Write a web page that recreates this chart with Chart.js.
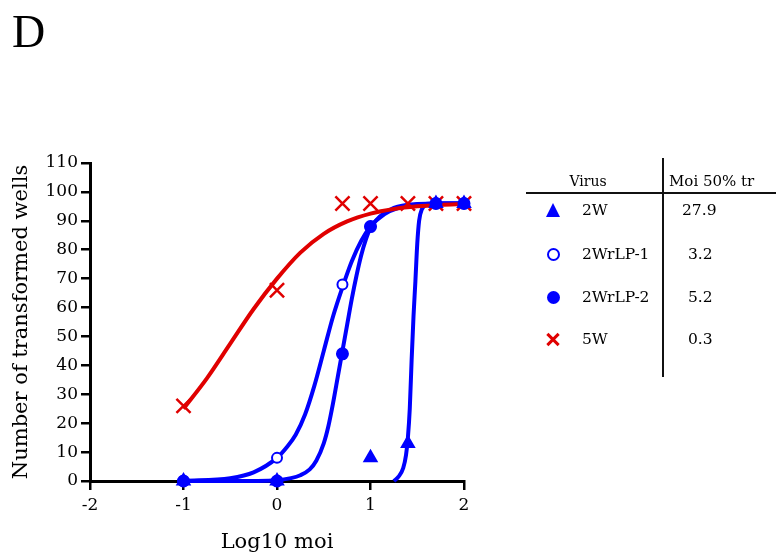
<!DOCTYPE html>
<html>
<head>
<meta charset="utf-8">
<script src="https://cdn.jsdelivr.net/npm/chart.js@4/dist/chart.umd.min.js"></script>
<style>
  html, body { margin: 0; padding: 0; background: #fff; }
  #wrap { position: relative; width: 776px; height: 557px; overflow: hidden; font-family: "DejaVu Serif", serif; color: #000; }
  #c { position: absolute; left: 0; top: 0; }
  .txt { position: absolute; height: 20px; line-height: 20px; white-space: nowrap; font-size: 15px; }
  .panel { position: absolute; left: 12px; top: 4px; font-family: "Liberation Serif", serif; font-size: 46px; line-height: 56px; }
  .vline { position: absolute; left: 662px; top: 158px; width: 1.5px; height: 219px; background: #111; }
  .hline { position: absolute; left: 526px; top: 192px; width: 250px; height: 1.5px; background: #111; }
  .tri { position: absolute; width: 0; height: 0; border-left: 7.5px solid transparent; border-right: 7.5px solid transparent; border-bottom: 14px solid #0000ff; }
  .dot { position: absolute; width: 13px; height: 13px; border-radius: 50%; box-sizing: border-box; }
  .cross { position: absolute; width: 14px; height: 14px; }
  .cross:before, .cross:after { content: ""; position: absolute; left: -1px; top: 5.5px; width: 16px; height: 3px; background: #e00000; }
  .cross:before { transform: rotate(45deg); }
  .cross:after { transform: rotate(-45deg); }
</style>
</head>
<body>
<div id="wrap">
  <canvas id="c" width="776" height="557"></canvas>
  <div class="panel">D</div>
  <div class="vline"></div>
  <div class="hline"></div>
  <div id="table"></div>
</div>
<script>
// measured points: log10 of moi on x, transformed wells (out of 96) on y
const logMoi = [-1, 0, 0.7, 1, 1.4, 1.7, 2];
const wells2W = [0, 0, null, 8, 13, 96, 96];
const wells2WrLP1 = [0, 8, 68, 88, null, 96, 96];
const wells2WrLP2 = [0, 0, 44, 88, null, 96, 96];
const wells5W = [26, 66, 96, 96, 96, 96, 96];

// fitted curves
const fit2WX = [1.25, 1.3, 1.35, 1.38, 1.4, 1.42, 1.44, 1.46, 1.48, 1.5, 1.52, 1.55, 1.6, 1.7, 2];
const fit2WY = [0, 1.5, 4.5, 9, 15, 25, 42, 57, 69, 82, 90, 94, 95.5, 96, 96];
const fitLP1X = [-1, -0.5, -0.25, 0, 0.1, 0.2, 0.3, 0.4, 0.5, 0.6, 0.7, 0.8, 0.9, 1, 1.15, 1.3, 1.5, 1.75, 2];
const fitLP1Y = [0.1, 1, 3, 8, 11.5, 16, 23, 33, 45, 57, 67, 76, 83, 88, 92.3, 94.5, 95.6, 96, 96];
const fitLP2X = [-1, -0.5, 0, 0.15, 0.25, 0.35, 0.42, 0.5, 0.55, 0.6, 0.65, 0.7, 0.75, 0.8, 0.85, 0.9, 0.95, 1, 1.1, 1.25, 1.5, 1.75, 2];
const fitLP2Y = [0, 0, 0.3, 1, 2, 4, 7, 13, 19, 27, 36, 45, 54, 63, 71, 78, 83.5, 87.5, 91.5, 94.5, 95.8, 96, 96];
const fit5WX = [-1, -0.75, -0.5, -0.25, 0, 0.25, 0.5, 0.75, 1, 1.25, 1.5, 1.75, 2];
const fit5WY = [25, 35.5, 47.5, 59.5, 70, 79, 85.5, 89.8, 92.5, 94.1, 95, 95.5, 95.8];

// right-hand table
const virusNames = ['2W', '2WrLP-1', '2WrLP-2', '5W'];
const moi50 = ['27.9', '3.2', '5.2', '0.3'];

const xTicks = [-2, -1, 0, 1, 2];
const yMax = 110;

const BLUE = '#0000ff';
const RED = '#e00000';
const SERIF = 'DejaVu Serif';

function pts(xs, ys) {
    const out = [];
    xs.forEach((x, i) => { if (ys[i] !== null) out.push({ x: x, y: ys[i] }); });
    return out;
}

function curve(xs, ys, color, order) {
    return {
        data: pts(xs, ys),
        showLine: true,
        borderColor: color,
        borderWidth: 4,
        pointRadius: 0,
        cubicInterpolationMode: 'monotone',
        order: order,
        clip: false
    };
}

function markers(ys, style, color, radius, fill, order) {
    return {
        data: pts(logMoi, ys),
        showLine: false,
        pointStyle: style,
        pointRadius: radius,
        pointBorderColor: color,
        pointBackgroundColor: fill,
        pointBorderWidth: style === 'crossRot' ? 2.5 : 2,
        order: order,
        clip: false
    };
}

const datasets = [
    markers(wells2W, 'triangle', BLUE, 7, BLUE, 1),
    markers(wells2WrLP1, 'circle', BLUE, 5, '#fff', 2),
    markers(wells2WrLP2, 'circle', BLUE, 5.5, BLUE, 1),
    markers(wells5W, 'crossRot', RED, 10, RED, 3),
    curve(fit5WX, fit5WY, RED, 5),
    curve(fit2WX, fit2WY, BLUE, 6),
    curve(fitLP1X, fitLP1Y, BLUE, 6),
    curve(fitLP2X, fitLP2Y, BLUE, 6)
];

new Chart(document.getElementById('c').getContext('2d'), {
    type: 'scatter',
    data: { datasets: datasets },
    options: {
        responsive: false,
        animation: false,
        layout: { padding: { left: 0, top: 163, right: 312, bottom: 0 } },
        plugins: { legend: { display: false }, tooltip: { enabled: false } },
        scales: {
            x: {
                type: 'linear',
                min: xTicks[0],
                max: xTicks[xTicks.length - 1],
                afterBuildTicks: (s) => { s.ticks = xTicks.map(v => ({ value: v })); },
                afterFit: (s) => { s.height = 76; },
                ticks: { color: '#000', padding: 5, font: { family: SERIF, size: 17 } },
                grid: { drawOnChartArea: false, color: '#000', lineWidth: 2.5, tickLength: 9 },
                border: { color: '#000', width: 3 },
                title: { display: true, text: 'Log10 moi', color: '#000', padding: { bottom: 2 }, font: { family: SERIF, size: 21 } }
            },
            y: {
                type: 'linear',
                min: 0,
                max: yMax,
                afterFit: (s) => { s.width = 90; },
                ticks: { stepSize: 10, color: '#000', padding: 3, font: { family: SERIF, size: 17 } },
                grid: { drawOnChartArea: false, color: '#000', lineWidth: 2.5, tickLength: 9 },
                border: { color: '#000', width: 3 },
                title: { display: true, text: 'Number of transformed wells', color: '#000', padding: { top: 9 }, font: { family: SERIF, size: 21 } }
            }
        }
    }
});

// table text and symbols
const table = document.getElementById('table');
function addText(str, left, cy, size, center) {
    const d = document.createElement('div');
    d.className = 'txt';
    d.textContent = str;
    d.style.top = (cy - 10) + 'px';
    d.style.fontSize = size + 'px';
    if (center) { d.style.left = (left - 100) + 'px'; d.style.width = '200px'; d.style.textAlign = 'center'; }
    else d.style.left = left + 'px';
    table.appendChild(d);
}
addText('Virus', 588, 181, 14, true);
addText('Moi 50% tr', 669, 181, 15, false);

const rowY = [210, 254, 297, 339];
const valueLeft = [682, 688, 688, 688];
virusNames.forEach((name, i) => {
    addText(name, 582, rowY[i], 15.5, false);
    addText(moi50[i], valueLeft[i], rowY[i], 15.5, false);
});

const symbols = [
    { cls: 'tri', w: 15, h: 14 },
    { cls: 'dot', w: 13, h: 13, css: 'border:2.5px solid ' + BLUE },
    { cls: 'dot', w: 13, h: 13, css: 'background:' + BLUE },
    { cls: 'cross', w: 14, h: 14 }
];
symbols.forEach((s, i) => {
    const d = document.createElement('div');
    d.className = s.cls;
    if (s.css) d.style.cssText = s.css;
    d.style.left = (553 - s.w / 2) + 'px';
    d.style.top = (rowY[i] - s.h / 2) + 'px';
    table.appendChild(d);
});
</script>
</body>
</html>
